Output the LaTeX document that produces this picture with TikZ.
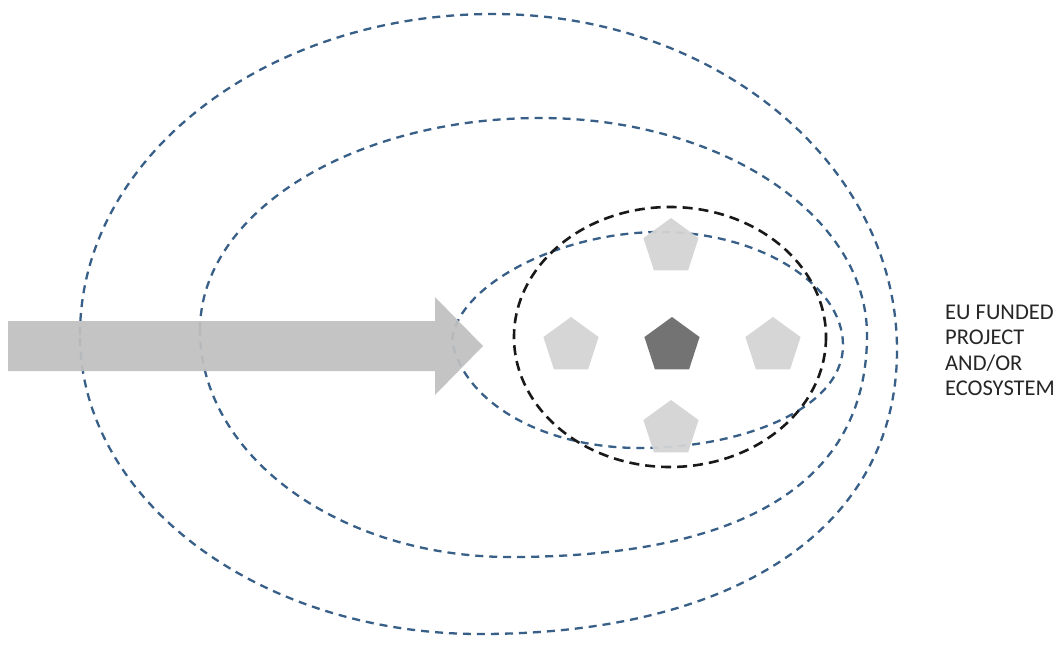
\documentclass[tikz,border=0pt]{standalone}
\usepackage{fontspec}
\setmainfont{Carlito}
\usetikzlibrary{shapes.geometric}
\definecolor{dashblue}{RGB}{55,95,135}
\definecolor{arrowgray}{RGB}{192,192,192}
\definecolor{pentlight}{RGB}{212,212,212}
\definecolor{pentdark}{RGB}{108,108,108}
\begin{document}
\begin{tikzpicture}[x=1pt,y=-1pt,
  ring/.style={draw=dashblue, line width=2.3pt, dash pattern=on 8pt off 6pt},
  blackring/.style={draw=black!90, line width=2.6pt, dash pattern=on 10pt off 6pt},
  pent/.style={regular polygon, regular polygon sides=5, minimum size=58pt, inner sep=0pt, draw=none, fill opacity=0.95},
  lbl/.style={anchor=base west, inner sep=0pt, font=\fontsize{22.5}{25}\selectfont, text=black!85},
  bigarrow/.style={fill=arrowgray, fill opacity=0.93, draw=none}]
\useasboundingbox[fill=white] (0,0) rectangle (1063,646);

% outer ring
\draw[ring] (80,335) .. controls (80,157.7) and (264.9,14) .. (493,14)
  .. controls (716.1,14) and (897,164.4) .. (897,350)
  .. controls (897,526) and (738.5,634) .. (480,634)
  .. controls (259,634) and (80,500) .. cycle;
% second ring
\draw[ring] (200,330) .. controls (200,212.9) and (352.2,118) .. (540,118)
  .. controls (720.6,118) and (867,215.2) .. (867,335)
  .. controls (867,481.5) and (745.6,557) .. (510,557)
  .. controls (338.8,557) and (200,455.4) .. cycle;
% inner ring
\draw[ring] (452,340) .. controls (458,285) and (560,232) .. (660,232)
  .. controls (760,232) and (843,285) .. (843,345)
  .. controls (843,410) and (740,448) .. (640,448)
  .. controls (540,448) and (462,400) .. cycle;
% black ring
\draw[blackring] (670,337) ellipse [x radius=156, y radius=130];

% big arrow
\fill[bigarrow] (8,321) -- (435,321) -- (435,297) -- (483,346) -- (435,395) -- (435,371) -- (8,371) -- cycle;

% pentagons
\node[pent, fill=pentdark] (pc) at (672,346) {};
\node[pent, fill=pentlight] (pl) at (571,346) {};
\node[pent, fill=pentlight] (pr) at (773,346) {};
\node[pent, fill=pentlight] (pt) at (671,247) {};
\node[pent, fill=pentlight] (pb) at (671,429) {};

% label
\node[lbl] (t1) at (945,319) {EU FUNDED};
\node[lbl] (t2) at (945,344.5) {PROJECT};
\node[lbl] (t3) at (945,370) {AND/OR};
\node[lbl] (t4) at (945,395.5) {ECOSYSTEM};
\end{tikzpicture}
\end{document}
